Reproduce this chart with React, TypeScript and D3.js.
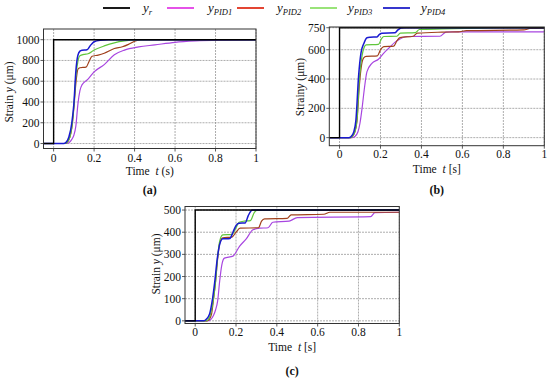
import React from "react";
import * as d3 from "d3";

type Pt = [number, number];

// ---------- legend ----------
const seriesNames = ["r", "PID1", "PID2", "PID3", "PID4"];
const legendColors = ["#000000", "#e23fe6", "#e0301c", "#8ee06a", "#2020c8"];
const lineColors = ["#000000", "#a846e0", "#a0401c", "#5fc63a", "#1a1ad0"];

// ---------- panel (a): target 1000 ----------
const aTarget = 1000;
const aYTicks = [0, 200, 400, 600, 800, 1000];
const aPID1: Pt[] = [[-0.05,0],[0.06,0],[0.075,8],[0.09,40],[0.1,80],[0.11,170],[0.12,380],[0.13,510],[0.14,565],[0.17,620],[0.2,690],[0.25,760],[0.3,855],[0.35,900],[0.42,930],[0.5,950],[0.6,975],[0.7,988],[0.85,996],[1,1000]];
const aPID2: Pt[] = [[-0.05,0],[0.055,0],[0.065,8],[0.08,60],[0.09,150],[0.1,340],[0.11,580],[0.12,715],[0.13,730],[0.16,735],[0.175,790],[0.19,840],[0.22,852],[0.25,870],[0.3,915],[0.34,932],[0.37,955],[0.4,985],[0.43,1000],[1,1000]];
const aPID3: Pt[] = [[-0.05,0],[0.055,0],[0.065,8],[0.08,60],[0.09,160],[0.1,360],[0.11,640],[0.12,790],[0.13,845],[0.15,858],[0.17,865],[0.2,900],[0.25,940],[0.3,970],[0.35,988],[0.42,998],[0.5,1000],[1,1000]];
const aPID4: Pt[] = [[-0.05,0],[0.05,0],[0.06,8],[0.075,60],[0.09,200],[0.1,380],[0.11,700],[0.12,850],[0.13,890],[0.14,898],[0.165,903],[0.18,940],[0.2,980],[0.23,995],[0.27,1000],[1,1000]];

// ---------- panel (b): target 750 ----------
const bTarget = 750;
const bYTicks = [0, 200, 400, 600, 750];
const bPID1: Pt[] = [[-0.05,0],[0.06,0],[0.075,8],[0.09,40],[0.1,100],[0.11,200],[0.12,320],[0.134,450],[0.158,507],[0.19,535],[0.215,575],[0.24,610],[0.27,650],[0.289,668],[0.33,690],[0.49,692],[0.52,720],[0.55,722],[1,722]];
const bPID2: Pt[] = [[-0.05,0],[0.05,0],[0.06,5],[0.075,40],[0.085,110],[0.097,360],[0.108,500],[0.118,545],[0.13,555],[0.185,558],[0.2,600],[0.216,621],[0.265,625],[0.28,660],[0.295,682],[0.36,692],[0.38,713],[0.5,720],[0.58,722],[0.62,730],[0.9,735],[0.93,745],[1,748]];
const bPID3: Pt[] = [[-0.05,0],[0.05,0],[0.06,5],[0.075,40],[0.085,120],[0.097,400],[0.11,560],[0.12,615],[0.13,633],[0.19,636],[0.205,675],[0.216,690],[0.28,692],[0.297,713],[0.37,716],[0.39,738],[0.5,742],[0.7,747],[0.78,750],[1,750]];
const bPID4: Pt[] = [[-0.05,0],[0.045,0],[0.055,5],[0.07,40],[0.08,120],[0.093,420],[0.105,580],[0.118,640],[0.134,682],[0.15,685],[0.183,687],[0.195,705],[0.208,713],[0.27,715],[0.285,735],[0.3,748],[0.32,750],[1,750]];

// ---------- panel (c): target 500 ----------
const cTarget = 500;
const cYTicks = [0, 100, 200, 300, 400, 500];
const cPID1: Pt[] = [[-0.05,0],[0.06,0],[0.075,5],[0.09,25],[0.1,50],[0.11,90],[0.12,180],[0.13,250],[0.143,283],[0.185,292],[0.217,336],[0.25,370],[0.283,411],[0.316,418],[0.357,420],[0.38,445],[0.46,450],[0.5,466],[0.86,470],[0.88,488],[1,490]];
const cPID2: Pt[] = [[-0.05,0],[0.055,0],[0.065,3],[0.08,30],[0.09,100],[0.1,180],[0.11,280],[0.12,350],[0.135,375],[0.18,378],[0.2,400],[0.22,418],[0.31,420],[0.325,450],[0.34,460],[0.45,462],[0.47,478],[0.63,481],[0.66,490],[1,490]];
const cPID3: Pt[] = [[-0.05,0],[0.05,0],[0.06,3],[0.075,30],[0.09,100],[0.1,180],[0.11,290],[0.12,360],[0.135,388],[0.18,390],[0.2,420],[0.215,445],[0.24,450],[0.27,452],[0.29,490],[0.305,500],[1,500]];
const cPID4: Pt[] = [[-0.05,0],[0.04,0],[0.05,3],[0.07,30],[0.085,100],[0.095,170],[0.108,280],[0.12,345],[0.135,370],[0.17,372],[0.185,400],[0.2,430],[0.215,440],[0.245,442],[0.26,475],[0.28,500],[1,500]];

const xTicks = [0, 0.2, 0.4, 0.6, 0.8, 1];
const xTickLabels = ["0", "0.2", "0.4", "0.6", "0.8", "1"];

const FONT = "Liberation Serif";

interface PanelProps {
  left: number; right: number; top: number; bottom: number;
  yDomain: [number, number];
  yTicks: number[];
  target: number;
  series: Pt[][];
  yLabel: React.ReactNode;
  yLabelX: number;
  yLabelY: number;
  xLabelY: number;
  xUnit: string;
  tickLabelY: number;
  panelLabel: string;
  panelLabelY: number;
}

function Panel(p: PanelProps) {
  const x = d3.scaleLinear().domain([-0.05, 1]).range([p.left, p.right]);
  const y = d3.scaleLinear().domain(p.yDomain).range([p.bottom, p.top]);
  const line = d3.line<Pt>().x(d => x(d[0])).y(d => y(d[1])).curve(d3.curveMonotoneX);
  const ref: Pt[] = [[-0.05, 0], [0, 0], [0, p.target], [1, p.target]];
  const refLine = d3.line<Pt>().x(d => x(d[0])).y(d => y(d[1]));
  const cx = (p.left + p.right) / 2;
  const clipId = "clip-" + p.panelLabel.replace(/[()]/g, "");
  return (
    <g style={{ fontFamily: FONT }}>
      <defs>
        <clipPath id={clipId}>
          <rect x={p.left} y={p.top - 1} width={p.right - p.left} height={p.bottom - p.top + 2} />
        </clipPath>
      </defs>
      {xTicks.map(t => (
        <line key={"gx" + t} x1={x(t)} x2={x(t)} y1={p.top} y2={p.bottom} stroke="#8a8a8a" strokeWidth={0.7} strokeDasharray="2,1" />
      ))}
      {p.yTicks.map(t => (
        <line key={"gy" + t} x1={p.left} x2={p.right} y1={y(t)} y2={y(t)} stroke="#8a8a8a" strokeWidth={0.7} strokeDasharray="2,1" />
      ))}
      <g clipPath={`url(#${clipId})`}>
        {p.series.map((s, i) => (
          <path key={i} d={line(s) || ""} fill="none" stroke={lineColors[i + 1]} strokeWidth={i === 3 ? 1.5 : 1.2} />
        ))}
        <path d={refLine(ref) || ""} fill="none" stroke="#000" strokeWidth={1.4} />
      </g>
      <rect x={p.left} y={p.top} width={p.right - p.left} height={p.bottom - p.top} fill="none" stroke="#333" strokeWidth={1} />
      {p.yTicks.map(t => (
        <g key={"ty" + t}>
          <line x1={p.left - 3} x2={p.left} y1={y(t)} y2={y(t)} stroke="#333" strokeWidth={0.8} />
          <text x={p.left - 4} y={y(t)} dy="0.35em" textAnchor="end" fontSize={11.5} fill="#111">{t}</text>
        </g>
      ))}
      {xTicks.map((t, i) => (
        <g key={"tx" + t}>
          <line x1={x(t)} x2={x(t)} y1={p.bottom} y2={p.bottom + 3} stroke="#333" strokeWidth={0.8} />
          <text x={x(t)} y={p.tickLabelY} textAnchor="middle" fontSize={11.5} fill="#111">{xTickLabels[i]}</text>
        </g>
      ))}
      <text x={cx} y={p.xLabelY} textAnchor="middle" fontSize={11.5} fill="#111">
        Time <tspan fontStyle="italic" dx="3">t</tspan> {p.xUnit}
      </text>
      <text transform={`translate(${p.yLabelX},${p.yLabelY}) rotate(-90)`} textAnchor="middle" fontSize={11.5} fill="#111">
        {p.yLabel}
      </text>
      <text x={cx} y={p.panelLabelY} textAnchor="middle" fontSize={12} fontWeight="bold" fill="#111">{p.panelLabel}</text>
    </g>
  );
}

function Legend() {
  const lineX = [103, 167, 237, 310, 383];
  const textX = [143, 208, 277, 348, 421];
  const ly = 8;
  return (
    <g style={{ fontFamily: FONT }}>
      {seriesNames.map((n, i) => (
        <g key={n}>
          <line x1={lineX[i]} x2={lineX[i] + 27} y1={ly} y2={ly} stroke={legendColors[i]} strokeWidth={1.8} />
          <text x={textX[i]} y={ly + 4} fontSize={13} fontStyle="italic" fill="#111">
            y<tspan fontSize={8.5} dy="2.5">{n}</tspan>
          </text>
        </g>
      ))}
    </g>
  );
}

export default function App() {
  return (
    <svg width={550} height={379} style={{ position: "absolute", left: 0, top: 0, background: "#fff", fontFamily: FONT }}>
      <Legend />
      <Panel
        left={43.5} right={256} top={29} bottom={148.5}
        yDomain={[-48, 1103]} yTicks={aYTicks} target={aTarget}
        series={[aPID1, aPID2, aPID3, aPID4]}
        yLabel={<>Strain <tspan fontStyle="italic">y</tspan> (μm)</>}
        yLabelX={13} yLabelY={92}
        xLabelY={175} xUnit="(s)" tickLabelY={162}
        panelLabel="(a)" panelLabelY={194}
      />
      <Panel
        left={329.3} right={544.3} top={27} bottom={145.7}
        yDomain={[-55, 755]} yTicks={bYTicks} target={bTarget}
        series={[bPID1, bPID2, bPID3, bPID4]}
        yLabel={<>Strain<tspan fontStyle="italic">y</tspan> (μm)</>}
        yLabelX={304} yLabelY={87}
        xLabelY={173} xUnit="[s]" tickLabelY={158}
        panelLabel="(b)" panelLabelY={194}
      />
      <Panel
        left={185} right={399.3} top={206.5} bottom={323.5}
        yDomain={[-12, 516]} yTicks={cYTicks} target={cTarget}
        series={[cPID1, cPID2, cPID3, cPID4]}
        yLabel={<>Strain <tspan fontStyle="italic">y</tspan> (μm)</>}
        yLabelX={160} yLabelY={264}
        xLabelY={351} xUnit="[s]" tickLabelY={336}
        panelLabel="(c)" panelLabelY={375}
      />
    </svg>
  );
}
